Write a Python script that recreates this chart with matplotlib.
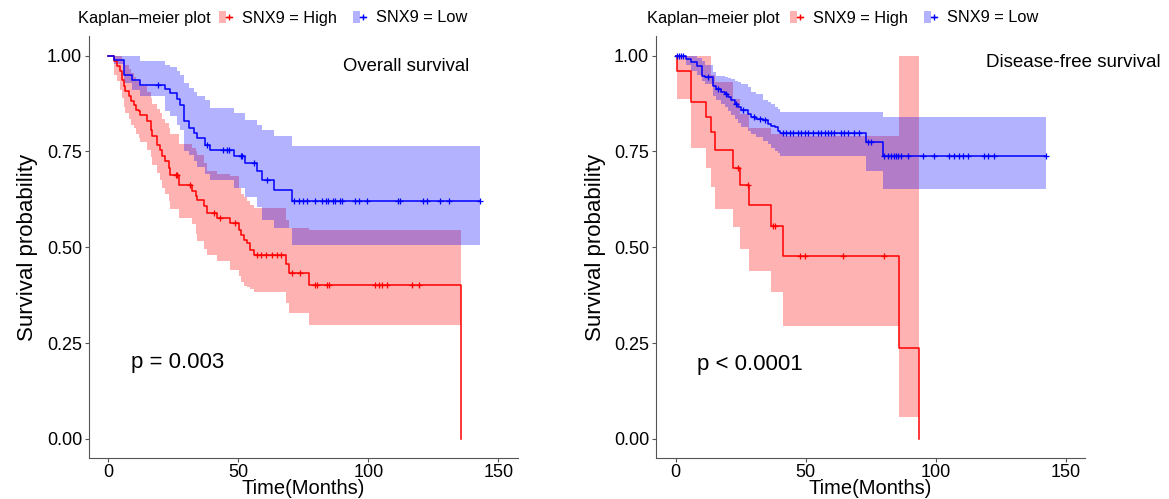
import numpy as np
import matplotlib.pyplot as plt
from matplotlib.lines import Line2D
from matplotlib.patches import Patch
from matplotlib.legend_handler import HandlerTuple

plt.rcParams['font.family'] = ['Liberation Sans', 'DejaVu Sans']

RED = "#FF0000"
BLUE = "#0000FF"

# ---- Overall survival, SNX9 = High ----
os_high_t = [0, 2.0, 3.3, 4.6, 5.3, 5.9, 6.5, 7.8, 8.5, 9.7, 10.4, 11.7, 12.3, 14.9, 16.2, 16.8,
             18.7, 20.0, 20.6, 21.9, 23.2, 23.8, 27.1, 32.2, 33.5, 34.1, 36.7, 37.9, 41.8, 46.9,
             50.1, 50.8, 52.1, 53.3, 54.6, 55.9, 68.1, 69.4, 77.1, 135.4]
os_high_s = [1.0, 0.985, 0.972, 0.959, 0.937, 0.920, 0.907, 0.894, 0.881, 0.872, 0.859, 0.855, 0.846,
             0.829, 0.807, 0.790, 0.768, 0.754, 0.737, 0.724, 0.707, 0.689, 0.663, 0.646, 0.633, 0.624,
             0.607, 0.589, 0.576, 0.563, 0.546, 0.533, 0.520, 0.511, 0.493, 0.480, 0.456, 0.433, 0.402, 0.0]
os_high_up = [1.0, 1.0, 1.0, 1.0, 0.99, 0.98, 0.975, 0.965, 0.955, 0.945, 0.935, 0.93, 0.92, 0.905,
              0.89, 0.875, 0.86, 0.85, 0.835, 0.825, 0.81, 0.795, 0.77, 0.76, 0.75, 0.74, 0.72, 0.70,
              0.69, 0.685, 0.655, 0.64, 0.63, 0.62, 0.61, 0.602, 0.572, 0.55, 0.546, np.nan]
os_high_lo = [1.0, 0.95, 0.935, 0.91, 0.89, 0.865, 0.85, 0.835, 0.82, 0.81, 0.795, 0.785, 0.775, 0.755,
              0.735, 0.715, 0.695, 0.675, 0.655, 0.64, 0.62, 0.60, 0.575, 0.56, 0.535, 0.515, 0.495,
              0.48, 0.463, 0.44, 0.424, 0.41, 0.40, 0.395, 0.39, 0.382, 0.354, 0.328, 0.298, np.nan]
os_high_end = 135.4
os_high_cens = [25.8, 26.4, 31.5, 40.5, 43.0, 48.8, 57.2, 58.5, 60.4, 63.0, 64.9, 66.2, 70.6, 73.8,
                79.6, 80.2, 84.0, 84.7, 102.7, 104.0, 105.3, 107.2, 116.9, 119.4]

# ---- Overall survival, SNX9 = Low ----
os_low_t = [0, 2.3, 5.9, 9.1, 12.0, 21.9, 23.8, 26.4, 27.7, 29.0, 30.9, 32.8, 34.1, 37.3, 39.2,
            48.2, 52.7, 57.2, 59.1, 63.6, 70.6]
os_low_s = [1.0, 0.988, 0.950, 0.936, 0.924, 0.913, 0.902, 0.887, 0.872, 0.829, 0.811, 0.798, 0.785,
            0.768, 0.754, 0.739, 0.720, 0.698, 0.676, 0.650, 0.620]
os_low_up = [1.0, 1.0, 1.0, 1.0, 0.985, 0.976, 0.970, 0.959, 0.950, 0.929, 0.915, 0.905, 0.895, 0.885,
             0.863, 0.850, 0.833, 0.820, 0.807, 0.790, 0.763]
os_low_lo = [1.0, 0.977, 0.929, 0.911, 0.894, 0.855, 0.842, 0.820, 0.807, 0.75, 0.74, 0.725, 0.71,
             0.69, 0.675, 0.655, 0.63, 0.605, 0.572, 0.55, 0.507]
os_low_end = 143.0
os_low_cens = [19.0, 38.0, 44.0, 45.5, 46.5, 51.0, 51.5, 56.0, 61.0, 71.2, 73.1, 75.0, 76.5, 79.6,
               82.3, 83.5, 84.6, 86.2, 87.3, 89.2, 90.0, 95.0, 96.2, 99.6, 111.2, 112.3, 120.8,
               122.7, 127.7, 130.8, 143.0]

# ---- Disease-free survival, SNX9 = High ----
dfs_high_t = [0, 0.7, 6.1, 11.9, 13.8, 15.1, 22.1, 24.7, 28.1, 36.8, 41.3, 86.0, 93.7]
dfs_high_s = [1.0, 0.959, 0.880, 0.839, 0.800, 0.754, 0.708, 0.663, 0.611, 0.556, 0.478, 0.238, 0.0]
dfs_high_up = [1.0, 1.0, 1.0, 1.0, 0.95, 0.93, 0.887, 0.848, 0.81, 0.795, 0.79, 1.0, np.nan]
dfs_high_lo = [1.0, 0.887, 0.760, 0.708, 0.656, 0.60, 0.552, 0.495, 0.439, 0.382, 0.295, 0.056, np.nan]
dfs_high_end = 93.7
dfs_high_cens = [24.0, 27.9, 37.5, 38.1, 47.7, 49.9, 64.3, 80.3]

# ---- Disease-free survival, SNX9 = Low ----
dfs_low_t = [0, 4.2, 6.1, 8.1, 10.0, 11.3, 14.4, 15.7, 17.6, 18.9, 20.2, 21.5, 22.8, 24.0, 25.3,
             27.9, 29.2, 31.1, 33.6, 35.6, 36.8, 38.1, 39.4, 40.0, 73.3, 79.7]
dfs_low_s = [1.0, 0.991, 0.983, 0.974, 0.948, 0.944, 0.922, 0.913, 0.904, 0.900, 0.891, 0.883, 0.874,
             0.865, 0.857, 0.848, 0.839, 0.835, 0.831, 0.822, 0.817, 0.813, 0.804, 0.798, 0.774, 0.739]
dfs_low_up = [1.0, 1.0, 1.0, 0.995, 0.985, 0.975, 0.956, 0.948, 0.948, 0.945, 0.942, 0.939, 0.935,
              0.93, 0.925, 0.917, 0.905, 0.90, 0.885, 0.878, 0.875, 0.865, 0.861, 0.852, 0.852, 0.841]
dfs_low_lo = [1.0, 0.975, 0.96, 0.95, 0.935, 0.925, 0.895, 0.885, 0.875, 0.865, 0.855, 0.845, 0.835,
              0.825, 0.815, 0.804, 0.795, 0.787, 0.777, 0.77, 0.76, 0.752, 0.745, 0.739, 0.700, 0.652]
dfs_low_end = 142.6
dfs_low_cens = [0.4, 1.2, 2.0, 3.0, 12.5, 16.5, 19.5, 23.2, 26.0, 30.0, 32.5, 34.5, 41.3, 42.6, 43.9,
                45.1, 47.1, 48.3, 49.6, 50.9, 52.8, 54.7, 56.0, 57.3, 58.5, 59.8, 61.1, 63.7, 64.9,
                66.2, 68.8, 70.7, 73.9, 75.2, 80.3, 81.6, 82.9, 84.1, 84.8, 85.4, 86.7, 89.3, 95.0,
                99.5, 105.2, 107.2, 109.1, 110.4, 112.3, 118.7, 120.0, 122.5, 142.6]

legend_labels = ["SNX9 = High", "SNX9 = Low"]
x_ticks = [0, 50, 100, 150]
y_ticks = [0.0, 0.25, 0.50, 0.75, 1.0]


def draw_km(ax, t, s, up, lo, t_end, cens, color):
    t = np.array(t, dtype=float)
    s = np.array(s, dtype=float)
    up = np.array(up, dtype=float)
    lo = np.array(lo, dtype=float)
    # confidence band (only where it is defined)
    ok = ~np.isnan(up)
    bt = np.append(t[ok], t_end)
    bu = np.append(up[ok], up[ok][-1])
    bl = np.append(lo[ok], lo[ok][-1])
    ax.fill_between(bt, bl, bu, step='post', color=color, alpha=0.3, linewidth=0)
    # survival curve
    lt = np.append(t, t_end)
    ls = np.append(s, s[-1])
    ax.step(lt, ls, where='post', color=color, linewidth=1.1)
    # censor marks
    cens = np.array(cens)
    idx = np.searchsorted(t, cens, side='right') - 1
    ax.plot(cens, s[idx], linestyle='none', marker='+', color=color, markersize=4, markeredgewidth=0.9)


def style_axis(ax):
    ax.set_xlim(-7.5, 157.5)
    ax.set_ylim(-0.05, 1.05)
    ax.set_xticks(x_ticks)
    ax.set_yticks(y_ticks)
    ax.set_yticklabels(["0.00", "0.25", "0.50", "0.75", "1.00"])
    for side in ['top', 'right']:
        ax.spines[side].set_visible(False)
    for side in ['left', 'bottom']:
        ax.spines[side].set_color('#555555')
        ax.spines[side].set_linewidth(0.8)
    ax.tick_params(axis='both', labelsize=13, length=3, color='#555555', pad=2)
    ax.tick_params(axis='x', pad=1)
    ax.set_xlabel('Time(Months)', fontsize=14.5, labelpad=-1)
    ax.set_ylabel('Survival probability', fontsize=16, labelpad=6)


fig = plt.figure(figsize=(11.69, 4.99), dpi=100)
ax1 = fig.add_axes([0.0761, 0.0822, 0.367, 0.8447])
ax2 = fig.add_axes([0.5612, 0.0822, 0.367, 0.8447])

draw_km(ax1, os_high_t, os_high_s, os_high_up, os_high_lo, os_high_end, os_high_cens, RED)
draw_km(ax1, os_low_t, os_low_s, os_low_up, os_low_lo, os_low_end, os_low_cens, BLUE)
draw_km(ax2, dfs_high_t, dfs_high_s, dfs_high_up, dfs_high_lo, dfs_high_end, dfs_high_cens, RED)
draw_km(ax2, dfs_low_t, dfs_low_s, dfs_low_up, dfs_low_lo, dfs_low_end, dfs_low_cens, BLUE)

for ax in [ax1, ax2]:
    style_axis(ax)

ax1.text(114.6, 0.972, 'Overall survival', fontsize=13.3, ha='center', va='center')
ax1.text(8.5, 0.198, 'p = 0.003', fontsize=16, ha='left', va='center')
ax2.text(153, 0.982, 'Disease-free survival', fontsize=13.5, ha='center', va='center')
ax2.text(8.4, 0.195, 'p < 0.0001', fontsize=16, ha='left', va='center')

handles = [
    (Patch(facecolor=RED, alpha=0.3, edgecolor='none'),
     Line2D([], [], color=RED, marker='+', markersize=4, linewidth=1.0)),
    (Patch(facecolor=BLUE, alpha=0.3, edgecolor='none'),
     Line2D([], [], color=BLUE, marker='+', markersize=4, linewidth=1.0)),
]

for x_title, x_leg in [(78, 219), (647, 790)]:
    fig.text(x_title / 1169, 1 - 18 / 499, 'Kaplan\u2013meier plot', fontsize=11.8, ha='left', va='center')
    fig.legend(handles, legend_labels, handler_map={tuple: HandlerTuple(ndivide=None, pad=0)},
               loc='center left', bbox_to_anchor=(x_leg / 1169, 1 - 18 / 499), ncol=2,
               frameon=False, fontsize=11.8, handlelength=0.8, handleheight=0.8,
               handletextpad=0.6, columnspacing=1.0, borderaxespad=0, borderpad=0)

fig.savefig('out.png', dpi=100)
